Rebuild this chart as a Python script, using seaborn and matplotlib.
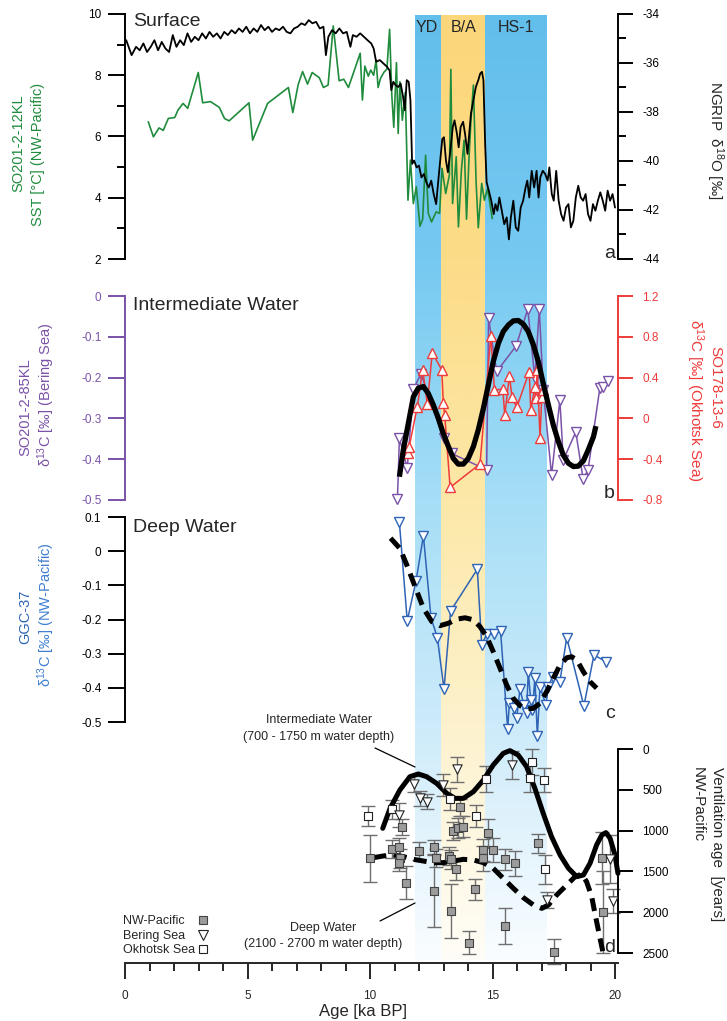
import numpy as np
import pandas as pd
import matplotlib
matplotlib.use("Agg")
import matplotlib.pyplot as plt
import seaborn as sns
from matplotlib.lines import Line2D
from matplotlib.ticker import FixedLocator, MultipleLocator

# ------------------------------------------------------------------ data
events = ["YD", "B/A", "HS-1"]
event_start = [11.85, 12.9, 14.7]
event_end = [12.9, 14.7, 17.2]

ngrip_age = [0.05,0.27,0.45,0.6,0.75,0.9,1.05,1.2,1.35,1.5,
 1.65,1.8,1.95,2.1,2.25,2.4,2.55,2.7,2.85,3.0,
 3.15,3.3,3.45,3.6,3.75,3.9,4.05,4.2,4.35,4.5,
 4.65,4.8,4.95,5.1,5.25,5.4,5.55,5.7,5.85,6.0,
 6.15,6.3,6.45,6.6,6.75,6.9,7.05,7.2,7.35,7.5,
 7.65,7.8,7.95,8.1,8.2,8.3,8.45,8.6,8.75,8.9,
 9.05,9.2,9.3,9.45,9.6,9.75,9.9,10.05,10.15,10.25,
 10.4,10.55,10.7,10.8,10.87,10.95,11.05,11.15,11.25,11.35,
 11.42,11.5,11.58,11.65,11.72,11.8,11.9,12.0,12.1,12.2,
 12.3,12.4,12.5,12.6,12.7,12.8,12.88,12.95,13.02,13.1,
 13.18,13.28,13.38,13.45,13.55,13.62,13.7,13.8,13.88,13.98,
 14.05,14.12,14.22,14.32,14.42,14.5,14.57,14.63,14.7,14.76,
 14.85,14.95,15.05,15.12,15.2,15.28,15.38,15.48,15.58,15.67,
 15.75,15.85,15.95,16.05,16.15,16.25,16.35,16.42,16.5,16.6,
 16.7,16.8,16.88,16.95,17.05,17.15,17.25,17.32,17.42,17.5,
 17.6,17.7,17.8,17.9,18.0,18.1,18.2,18.3,18.4,18.5,
 18.6,18.7,18.8,18.9,19.0,19.1,19.2,19.3,19.4,19.5,
 19.6,19.7,19.8,19.9,20.0]
ngrip_d18o = [-35.07,-35.68,-35.34,-35.48,-35.2,-35.55,-35.34,-35.07,-35.48,-35.14,
 -35.41,-35.55,-34.86,-35.34,-35.07,-35.27,-34.79,-35.14,-34.93,-35.07,
 -34.79,-35.0,-34.73,-34.93,-34.79,-35.0,-34.73,-34.86,-34.66,-34.79,
 -34.59,-34.73,-34.52,-34.79,-34.59,-34.73,-34.45,-34.66,-34.52,-34.73,
 -34.59,-34.66,-34.52,-34.73,-34.79,-34.59,-34.52,-34.38,-34.45,-34.25,
 -34.38,-34.32,-34.59,-34.52,-35.68,-34.93,-34.66,-34.79,-34.59,-34.79,
 -34.73,-35.34,-34.86,-34.93,-34.79,-34.93,-35.07,-35.2,-35.41,-35.95,
 -35.88,-36.02,-36.16,-36.3,-37.11,-36.77,-36.91,-36.98,-36.84,-37.38,
 -37.93,-36.7,-36.77,-37.52,-40.12,-39.98,-40.26,-40.19,-40.67,-40.53,
 -40.87,-41.08,-40.8,-41.35,-41.76,-40.67,-39.85,-39.1,-39.03,-39.98,
 -40.46,-39.57,-38.61,-38.34,-38.89,-39.44,-38.61,-38.4,-38.89,-39.71,
 -38.89,-38.07,-37.52,-36.98,-36.7,-36.43,-36.36,-36.7,-39.3,-40.87,
 -41.21,-41.62,-42.17,-41.76,-42.03,-41.49,-42.03,-42.58,-42.3,-43.2,
 -42.3,-41.62,-42.71,-42.85,-41.9,-41.62,-41.08,-40.8,-41.49,-40.4,
 -41.08,-40.4,-41.49,-40.67,-40.4,-40.53,-40.8,-40.26,-41.35,-41.62,
 -40.4,-41.62,-42.17,-42.44,-41.9,-41.76,-42.71,-42.44,-41.49,-41.01,
 -41.49,-41.62,-41.35,-42.17,-42.44,-41.76,-42.03,-41.62,-41.28,-41.62,
 -42.03,-41.21,-41.62,-41.35,-41.9]

sst_age = [0.95,1.16,1.39,1.56,1.77,2.03,2.16,2.37,2.56,2.99,
 3.17,3.49,3.85,4.06,4.25,5.06,5.21,5.82,6.67,6.85,
 7.07,7.25,7.45,7.64,7.93,8.1,8.29,8.5,8.74,8.93,
 9.12,9.6,9.69,9.79,9.93,10.03,10.15,10.25,10.33,10.43,
 10.57,10.69,10.8,10.89,10.97,11.08,11.15,11.22,11.32,11.44,
 11.55,11.65,11.77,11.89,12.04,12.15,12.27,12.38,12.51,12.7,
 12.84,12.94,13.09,13.24,13.3,13.37,13.52,13.61,13.73,13.84,
 13.94,14.04,14.12,14.22,14.33,14.42,14.56,14.67,14.8,14.99]
sst_val = [6.48,5.99,6.28,6.2,6.59,6.62,6.86,7.08,6.92,8.09,
 7.1,7.14,6.95,6.59,6.51,7.1,5.88,7.08,7.6,6.78,
 7.7,8.12,7.71,8.09,7.92,7.6,7.68,9.61,7.82,7.87,
 7.6,8.72,7.19,8.3,7.97,8.17,8.0,8.5,7.6,7.9,
 8.1,8.2,9.5,7.35,6.3,8.41,6.1,7.79,6.53,7.44,
 3.92,5.23,3.81,4.36,3.07,3.3,5.39,3.49,3.21,3.54,
 3.49,4.96,4.14,4.74,8.19,3.81,5.34,3.05,4.9,5.88,
 3.3,5.28,6.53,7.68,4.52,3.02,4.47,3.92,4.3,3.32]

bering_age = [11.12,11.2,11.52,11.77,12.08,13.0,13.33,14.76,14.84,15.17,
 15.96,16.44,16.73,16.91,17.07,17.41,17.75,17.89,18.4,18.7,
 18.9,19.38,19.52,19.72]
bering_d13c = [-0.498,-0.349,-0.422,-0.229,-0.19,-0.349,-0.386,-0.426,-0.055,-0.185,
 -0.123,-0.032,-0.202,-0.032,-0.23,-0.439,-0.255,-0.402,-0.333,-0.449,
 -0.426,-0.226,-0.222,-0.208]

okhotsk_age = [11.57,11.6,11.93,12.15,12.34,12.54,12.93,12.99,13.05,13.27,
 14.49,14.93,15.08,15.42,15.5,15.69,15.8,15.99,16.5,16.56,
 16.73,16.76,16.83,16.94,17.01,17.07]
okhotsk_d13c = [-0.343,-0.277,0.115,0.475,0.141,0.644,0.475,0.154,0.033,-0.676,
 -0.447,0.808,0.278,0.288,0.033,0.416,0.207,0.108,0.458,0.082,
 0.305,0.197,0.475,-0.195,0.207,0.278]

intfit_age = [11.2,11.36,11.565,11.77,11.97,12.18,12.38,12.585,12.79,12.99,
 13.2,13.4,13.6,13.81,14.01,14.22,14.42,14.63,14.83,15.03,
 15.24,15.44,15.65,15.85,16.05,16.26,16.46,16.67,16.87,17.07,
 17.28,17.48,17.69,17.89,18.1,18.3,18.5,18.71,18.91,19.12,19.22]
intfit_d13c = [-0.443,-0.377,-0.312,-0.247,-0.226,-0.222,-0.239,-0.267,-0.3,-0.337,
 -0.369,-0.398,-0.412,-0.412,-0.398,-0.369,-0.328,-0.275,-0.218,-0.161,
 -0.116,-0.087,-0.071,-0.061,-0.06,-0.069,-0.087,-0.12,-0.161,-0.214,
 -0.267,-0.316,-0.357,-0.39,-0.41,-0.418,-0.417,-0.404,-0.377,-0.345,-0.319]

ggc_age = [11.2,11.52,11.88,12.18,12.49,12.75,13.02,13.29,14.38,14.56,
 14.76,15.06,15.33,15.62,15.69,15.89,15.99,16.12,16.28,16.39,
 16.46,16.56,16.63,16.73,16.83,16.94,17.18,17.28,17.45,17.75,
 18.03,18.73,19.14,19.63]
ggc_d13c = [0.084,-0.204,-0.087,0.045,-0.195,-0.253,-0.404,-0.175,-0.053,-0.275,
 -0.243,-0.243,-0.234,-0.52,-0.445,-0.46,-0.489,-0.404,-0.45,-0.475,
 -0.353,-0.436,-0.465,-0.372,-0.54,-0.397,-0.45,-0.397,-0.367,-0.382,
 -0.253,-0.453,-0.304,-0.323]

deepfit_age = [10.84,11.22,11.5,11.84,12.18,12.52,12.86,13.2,13.54,13.88,
 14.22,14.49,14.76,15.03,15.31,15.58,15.85,16.12,16.39,16.67,
 16.94,17.21,17.48,17.76,18.03,18.23,18.44,18.71,18.98,19.25]
deepfit_d13c = [0.038,0.008,-0.04,-0.104,-0.167,-0.206,-0.218,-0.211,-0.199,-0.195,
 -0.201,-0.221,-0.25,-0.294,-0.343,-0.392,-0.431,-0.452,-0.462,-0.46,
 -0.445,-0.411,-0.372,-0.333,-0.312,-0.309,-0.318,-0.353,-0.382,-0.401]

nwp_age = [10.0,10.91,11.2,11.22,11.2,11.32,11.47,12.01,12.63,12.69,
 12.6,13.22,13.31,13.5,13.29,13.69,13.4,13.6,13.81,14.05,
 14.27,14.6,14.62,14.8,15.01,15.51,15.92,15.51,16.84,17.51,19.46,19.5]
nwp_vent = [1340,1229,1205,1340,1401,952,1638,1250,1205,1332,
 1736,1307,1352,1474,1981,715,1001,965,952,2374,
 1720,1238,1340,1033,1238,1352,1401,2169,1156,2484,1332,1997]
nwp_err = [285,110,110,120,100,100,200,110,90,110,
 450,110,120,130,330,100,110,120,130,140,
 130,140,150,180,150,130,150,220,120,150,320,500]

ber_age = [11.2,11.81,12.04,12.34,12.99,13.56,15.8,17.24,19.8,19.9]
ber_vent = [809,433,605,646,441,249,196,1850,1348,1863]
ber_err = [150,100,90,90,140,150,175,100,300,150]

okh_age = [9.9,10.91,13.27,14.31,14.72,16.62,16.53,17.11,17.14]
okh_vent = [821,739,613,821,372,159,351,380,1475]
okh_err = [120,120,140,140,160,160,170,150,175]

ventint_age = [10.52,10.82,11.22,11.63,11.97,12.31,12.72,13.13,13.47,13.81,
 14.22,14.63,15.03,15.44,15.71,16.05,16.39,16.73,17.07,17.41,
 17.76,18.1,18.44,18.71,18.98,19.25,19.46,19.63,19.8,20.0,20.12]
ventint_val = [972,727,502,339,306,339,421,543,605,605,
 523,380,196,53,20,74,216,482,788,1074,
 1299,1462,1565,1544,1401,1176,1054,1025,1095,1299,1524]

ventdeep_age = [10.14,10.54,10.95,11.36,11.77,12.18,12.59,12.99,13.4,13.81,
 14.22,14.63,15.03,15.44,15.85,16.26,16.67,17.01,17.28,17.62,
 18.03,18.37,18.64,18.84,19.05,19.18,19.32,19.46,19.52]
ventdeep_val = [1332,1311,1299,1319,1352,1373,1393,1393,1373,1352,
 1360,1393,1462,1585,1707,1822,1912,1953,1912,1789,
 1667,1565,1532,1626,1810,2014,2218,2422,2504]

x_ticks = [0, 5, 10, 15, 20]
x_ticklabels = ["0", "5", "10", "15", "20"]

# ------------------------------------------------------------------ style
sns.set_style("ticks")
plt.rcParams["font.family"] = ["Liberation Sans", "DejaVu Sans"]
plt.rcParams["mathtext.fontset"] = "custom"
plt.rcParams["mathtext.rm"] = "Liberation Sans"
plt.rcParams["mathtext.it"] = "Liberation Sans:italic"
plt.rcParams["axes.unicode_minus"] = False

GREEN = "#1f8c3d"
PURPLE = "#7a52a8"
RED = "#ef3b3b"
BLUE = "#2e63b5"
BLUE2 = "#3f7fd0"
GRAYF = "#9c9c9c"
ERRC = "#6f6f6f"

W, H = 727, 1021
XL, XR = 125, 618
XMAX = 20 * (XR - XL) / 490.0

fig = plt.figure(figsize=(W / 100, H / 100), dpi=100)


def axes_px(x0, y0, x1, y1):
    return fig.add_axes([x0 / W, 1 - y1 / H, (x1 - x0) / W, (y1 - y0) / H])


def fxy(x, y):
    return x / W, 1 - y / H


# ---- background event bands with vertical fade
bg = axes_px(XL, 15, XR, 960)
bg.set_xlim(0, XMAX)
bg.set_ylim(960, 15)
bg.axis("off")
stop_y = [15, 260, 500, 725, 960]
blue_stops = [(98, 190, 235), (118, 201, 241), (165, 222, 246), (205, 235, 250), (250, 253, 255)]
orng_stops = [(252, 214, 122), (252, 220, 136), (252, 232, 168), (253, 242, 205), (255, 253, 247)]
ys = np.linspace(15, 960, 500)
for name, s, e in zip(events, event_start, event_end):
    stops = orng_stops if name == "B/A" else blue_stops
    img = np.zeros((len(ys), 1, 3))
    for c in range(3):
        img[:, 0, c] = np.interp(ys, stop_y, [st[c] for st in stops]) / 255.0
    bg.imshow(img, extent=[s, e, 960, 15], aspect="auto", interpolation="bilinear")


def hide(ax, keep):
    for side in ["top", "bottom", "left", "right"]:
        ax.spines[side].set_visible(side in keep)
    ax.set_facecolor("none")
    ax.set_xlim(0, XMAX)
    ax.tick_params(axis="x", which="both", bottom=False, top=False,
                   labelbottom=False, labeltop=False)
    ax.set_xlabel("")
    ax.set_ylabel("")


def yaxis_style(ax, side, color, lcolor, ticks, labels, length, minor=None, pad=5):
    ax.spines[side].set_color(color)
    ax.spines[side].set_linewidth(1.4)
    ax.set_yticks(ticks)
    ax.set_yticklabels(labels)
    ax.tick_params(axis="y", which="major", length=length, width=1.4, color=color,
                   labelcolor=lcolor, labelsize=8.5, pad=pad, direction="out")
    if minor is not None:
        ax.yaxis.set_minor_locator(FixedLocator(minor))
        ax.tick_params(axis="y", which="minor", length=length / 2, width=1.4,
                       color=color, direction="out")
    else:
        ax.yaxis.set_minor_locator(FixedLocator([]))


line_kw = dict(estimator=None, sort=False, errorbar=None)

# ---- panel a
axA = axes_px(XL, 14, XR, 259)
sns.lineplot(x=sst_age, y=sst_val, ax=axA, color=GREEN, lw=1.2, **line_kw)
axA.set_ylim(2, 10)
hide(axA, ["left"])
yaxis_style(axA, "left", "black", "black", [2, 4, 6, 8, 10], ["2", "4", "6", "8", "10"],
            12, minor=[3, 5, 7, 9])
axA2 = axA.twinx()
sns.lineplot(x=ngrip_age, y=ngrip_d18o, ax=axA2, color="black", lw=1.3, **line_kw)
axA2.set_ylim(-44, -34)
hide(axA2, ["right"])
yaxis_style(axA2, "right", "black", "black", [-44, -42, -40, -38, -36, -34],
            ["-44", "-42", "-40", "-38", "-36", "-34"], 11, minor=[-43, -41, -39, -37, -35], pad=6.5)

# ---- panel b
axB = axes_px(XL, 296, XR, 500)
sns.lineplot(x=bering_age, y=bering_d13c, ax=axB, color=PURPLE, lw=1.1, marker="v",
             markersize=6.5, mfc="white", mec=PURPLE, mew=1.0, clip_on=False, **line_kw)
axB.set_ylim(-0.5, 0)
hide(axB, ["left"])
yaxis_style(axB, "left", PURPLE, PURPLE, [-0.5, -0.4, -0.3, -0.2, -0.1, 0],
            ["-0.5", "-0.4", "-0.3", "-0.2", "-0.1", "0"], 12)
axB2 = axB.twinx()
sns.lineplot(x=okhotsk_age, y=okhotsk_d13c, ax=axB2, color=RED, lw=1.1, marker="^",
             markersize=6.5, mfc="white", mec=RED, mew=1.0, clip_on=False, **line_kw)
axB2.set_ylim(-0.8, 1.2)
hide(axB2, ["right"])
yaxis_style(axB2, "right", RED, RED, [-0.8, -0.4, 0, 0.4, 0.8, 1.2],
            ["-0.8", "-0.4", "0", "0.4", "0.8", "1.2"], 11, pad=6.5)
axB3 = axB.twinx()
sns.lineplot(x=intfit_age, y=intfit_d13c, ax=axB3, color="black", lw=3.8,
             solid_capstyle="butt", solid_joinstyle="round", **line_kw)
axB3.set_ylim(-0.5, 0)
hide(axB3, [])
axB3.set_yticks([])

# ---- panel c
axC = axes_px(XL, 517, XR, 722)
sns.lineplot(x=ggc_age, y=ggc_d13c, ax=axC, color=BLUE, lw=1.1, marker="v",
             markersize=6.5, mfc="white", mec=BLUE, mew=1.0, clip_on=False, **line_kw)
sns.lineplot(x=deepfit_age, y=deepfit_d13c, ax=axC, color="black", lw=3.6,
             dashes=(2.6, 1.5), dash_capstyle="butt", **line_kw)
axC.set_ylim(-0.5, 0.1)
hide(axC, ["left"])
yaxis_style(axC, "left", "black", "black", [-0.5, -0.4, -0.3, -0.2, -0.1, 0, 0.1],
            ["-0.5", "-0.4", "-0.3", "-0.2", "-0.1", "0", "0.1"], 12)

# ---- panel d
axD = axes_px(XL, 749, XR, 953)
for xs, vs, es in [(nwp_age, nwp_vent, nwp_err), (ber_age, ber_vent, ber_err),
                   (okh_age, okh_vent, okh_err)]:
    cont = axD.errorbar(xs, vs, yerr=es, fmt="none", ecolor=ERRC, elinewidth=1.0,
                        capsize=5, capthick=1.0, zorder=2)
    for art in cont.get_children():
        art.set_clip_on(False)
sns.lineplot(x=ventint_age, y=ventint_val, ax=axD, color="black", lw=3.6,
             solid_joinstyle="round", zorder=3, clip_on=False, **line_kw)
sns.lineplot(x=ventdeep_age, y=ventdeep_val, ax=axD, color="black", lw=3.6,
             dashes=(2.6, 1.5), dash_capstyle="butt", zorder=3, clip_on=False, **line_kw)
sns.scatterplot(x=nwp_age, y=nwp_vent, ax=axD, marker="s", s=30, color=GRAYF,
                edgecolor="#444444", linewidth=0.8, zorder=4, clip_on=False)
sns.scatterplot(x=okh_age, y=okh_vent, ax=axD, marker="s", s=30, color="white",
                edgecolor="#222222", linewidth=0.8, zorder=4, clip_on=False)
sns.scatterplot(x=ber_age, y=ber_vent, ax=axD, marker="v", s=45, color="white",
                edgecolor="#222222", linewidth=0.8, zorder=4, clip_on=False)
axD.set_ylim(2500, 0)
axD.set_xlim(0, XMAX)
axD.set_facecolor("none")
axD.set_xlabel("")
axD.set_ylabel("")
for side in ["top", "left"]:
    axD.spines[side].set_visible(False)
axD.yaxis.tick_right()
yaxis_style(axD, "right", "black", "black", [0, 500, 1000, 1500, 2000, 2500],
            ["0", "500", "1000", "1500", "2000", "2500"], 11, pad=6.5)
axD.tick_params(axis="y", left=False, labelleft=False)
axD.spines["bottom"].set_position(("outward", 7))
axD.spines["bottom"].set_linewidth(1.4)
axD.set_xticks(x_ticks)
axD.set_xticklabels(x_ticklabels)
axD.xaxis.set_minor_locator(MultipleLocator(1))
axD.tick_params(axis="x", which="major", length=11.5, width=1.4, labelsize=8.5, pad=8,
                direction="out", bottom=True)
axD.tick_params(axis="x", which="minor", length=6, width=1.4, direction="out", bottom=True)

# ------------------------------------------------------------------ texts
def ftext(x, y, s, **kw):
    fig.text(*fxy(x, y), s, **kw)

ftext(133, 22, "Surface", fontsize=14, ha="left", va="center")
ftext(133, 305, "Intermediate Water", fontsize=14, ha="left", va="center")
ftext(133, 527, "Deep Water", fontsize=14, ha="left", va="center")

for name, xc in zip(events, [427, 464, 516]):
    ftext(xc, 27, name, fontsize=11.5, ha="center", va="center")

for letter, yc in zip(["a", "b", "c", "d"], [253, 493, 714, 947]):
    ftext(615, yc, letter, fontsize=14, ha="right", va="center")

# left axis labels
ftext(18, 143, "SO201-2-12KL", fontsize=10.5, color=GREEN, rotation=90, ha="center", va="center")
ftext(38, 154, "SST [°C] (NW-Pacific)", fontsize=10.5, color=GREEN, rotation=90, ha="center", va="center")
ftext(25, 407, "SO201-2-85KL", fontsize=10.5, color=PURPLE, rotation=90, ha="center", va="center")
ftext(46, 395, "δ$^{13}$C [‰] (Bering Sea)", fontsize=10.5, color=PURPLE, rotation=90, ha="center", va="center")
ftext(25, 617, "GGC-37", fontsize=10.5, color=BLUE, rotation=90, ha="center", va="center")
ftext(46, 615, "δ$^{13}$C [‰] (NW-Pacific)", fontsize=10.5, color=BLUE2, rotation=90, ha="center", va="center")

# right axis labels
ftext(715, 140, "NGRIP  δ$^{18}$O [‰]", fontsize=11, rotation=270, ha="center", va="center")
ftext(715, 387, "SO178-13-6", fontsize=11, color=RED, rotation=270, ha="center", va="center")
ftext(695, 400, "δ$^{13}$C [‰] (Okhotsk Sea)", fontsize=11, color=RED, rotation=270, ha="center", va="center")
ftext(717, 844, "Ventilation age  [years]", fontsize=11, rotation=270, ha="center", va="center")
ftext(698, 805, "NW-Pacific", fontsize=11, rotation=270, ha="center", va="center")

ftext(363, 1011, "Age [ka BP]", fontsize=12, ha="center", va="center")

# panel d annotations
ftext(319, 720, "Intermediate Water", fontsize=9, ha="center", va="center")
ftext(319, 737, "(700 - 1750 m water depth)", fontsize=9, ha="center", va="center")
ftext(323, 928, "Deep Water", fontsize=9, ha="center", va="center")
ftext(323, 944, "(2100 - 2700 m water depth)", fontsize=9, ha="center", va="center")
for (x0, y0), (x1, y1) in [((375, 748), (415, 767)), ((380, 921), (415, 903))]:
    fig.add_artist(Line2D([x0 / W, x1 / W], [1 - y0 / H, 1 - y1 / H], color="black",
                          lw=0.9, transform=fig.transFigure))

# legend
leg_labels = ["NW-Pacific", "Bering Sea", "Okhotsk Sea"]
leg_y = [921, 936, 950]
leg_style = [dict(marker="s", mfc=GRAYF, mec="#444444", ms=5.5),
             dict(marker="v", mfc="white", mec="#222222", ms=6.5),
             dict(marker="s", mfc="white", mec="#222222", ms=5.5)]
for lab, yy, st in zip(leg_labels, leg_y, leg_style):
    ftext(123, yy, lab, fontsize=9, ha="left", va="center")
    fig.add_artist(Line2D([203 / W], [1 - (yy - 1.5) / H], lw=0, mew=0.8,
                          transform=fig.transFigure, **st))

fig.savefig("out.png", dpi=100)
